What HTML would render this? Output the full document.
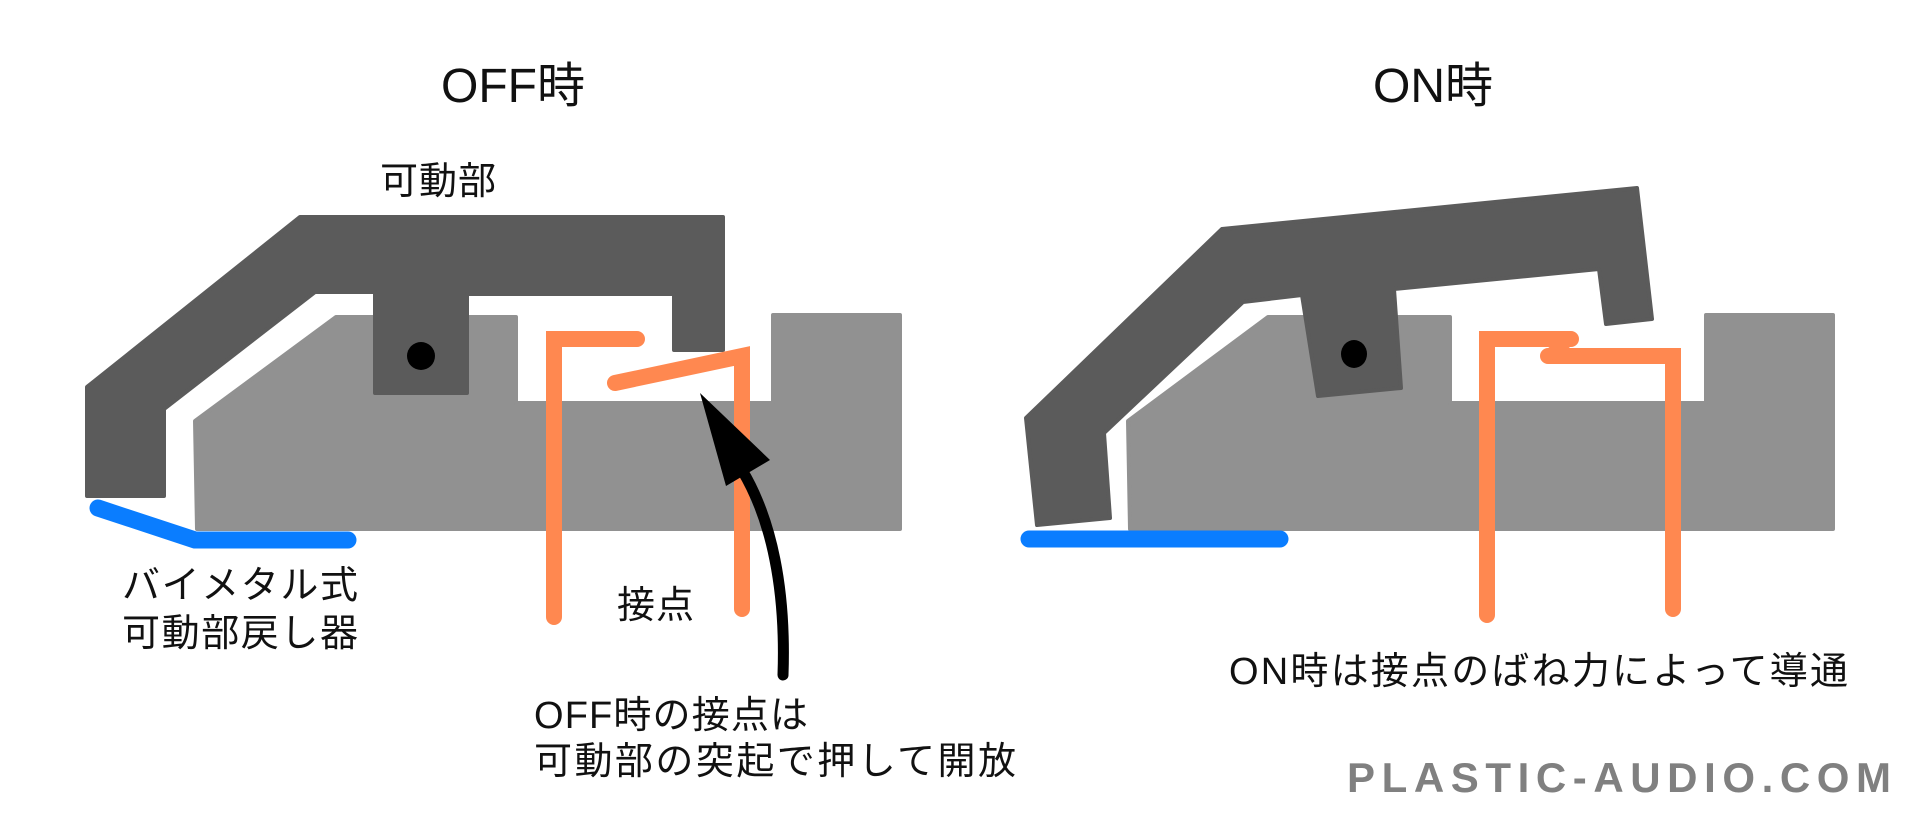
<!DOCTYPE html>
<html><head><meta charset="utf-8"><style>
html,body{margin:0;padding:0;background:#fff;}
svg{display:block;}
text{font-family:"Liberation Sans","Noto Sans CJK JP",sans-serif;fill:#111;}
</style></head><body>
<svg width="1920" height="820" viewBox="0 0 1920 820" xmlns="http://www.w3.org/2000/svg">
<!-- OFF -->
<text x="441" y="102" font-size="48" textLength="144">OFF時</text>
<text x="380" y="194" font-size="38" textLength="116">可動部</text>
<polygon points="336,317 516,317 516,403 773,403 773,315 900,315 900,529 197,529 195,421" fill="#919191" stroke="#919191" stroke-width="4" stroke-linejoin="round"/>
<polygon points="300,217 723,217 723,350 674,350 674,294 467,294 467,393 375,393 375,292 315,292 164,409 164,496 87,496 87,387" fill="#5b5b5b" stroke="#5b5b5b" stroke-width="4" stroke-linejoin="round"/>
<ellipse cx="421" cy="356" rx="14" ry="14" fill="#000"/>
<polyline points="98,508 195,540 348,540" fill="none" stroke="#0a7dff" stroke-width="17" stroke-linecap="round" stroke-linejoin="round"/>
<polyline points="637,339 554,339 554,617" fill="none" stroke="#ff8850" stroke-width="16" stroke-linecap="round"/>
<polyline points="615,383 742,356 742,609" fill="none" stroke="#ff8850" stroke-width="16" stroke-linecap="round"/>
<path d="M783,675 C786,590 772,520 742,470" fill="none" stroke="#000" stroke-width="11" stroke-linecap="round"/>
<polygon points="700,393 770,460 726,486" fill="#000"/>
<text x="617" y="618" font-size="38" textLength="77">接点</text>
<text x="122" y="598" font-size="38" textLength="236">バイメタル式</text>
<text x="122" y="646" font-size="38" textLength="236">可動部戻し器</text>
<text x="534" y="728" font-size="38" textLength="274">OFF時の接点は</text>
<text x="534" y="774" font-size="38" textLength="482">可動部の突起で押して開放</text>
<!-- ON -->
<text x="1373" y="102" font-size="48" textLength="120">ON時</text>
<polygon points="1268,317 1450,317 1450,403 1706,403 1706,315 1833,315 1833,529 1130,529 1128,421" fill="#919191" stroke="#919191" stroke-width="4" stroke-linejoin="round"/>
<polygon points="1222,229 1637,188 1652,319 1606,324 1599,269 1394,289 1401,388 1318,396 1302,295 1243,302 1104,433 1110,518 1037,525 1026,418" fill="#5b5b5b" stroke="#5b5b5b" stroke-width="4" stroke-linejoin="round"/>
<ellipse cx="1354" cy="354" rx="13" ry="14" fill="#000"/>
<line x1="1029" y1="539" x2="1280" y2="539" stroke="#0a7dff" stroke-width="17" stroke-linecap="round"/>
<polyline points="1571,339 1487,339 1487,615" fill="none" stroke="#ff8850" stroke-width="16" stroke-linecap="round"/>
<polyline points="1548,356 1673,356 1673,609" fill="none" stroke="#ff8850" stroke-width="16" stroke-linecap="round"/>
<line x1="1571" y1="339" x2="1550" y2="354" stroke="#ff8850" stroke-width="12" stroke-linecap="round"/>
<text x="1229" y="684" font-size="38" textLength="619">ON時は接点のばね力によって導通</text>
<text x="1347" y="792" font-size="42" font-weight="bold" textLength="544" style="fill:#808080">PLASTIC-AUDIO.COM</text>
</svg>
</body></html>
